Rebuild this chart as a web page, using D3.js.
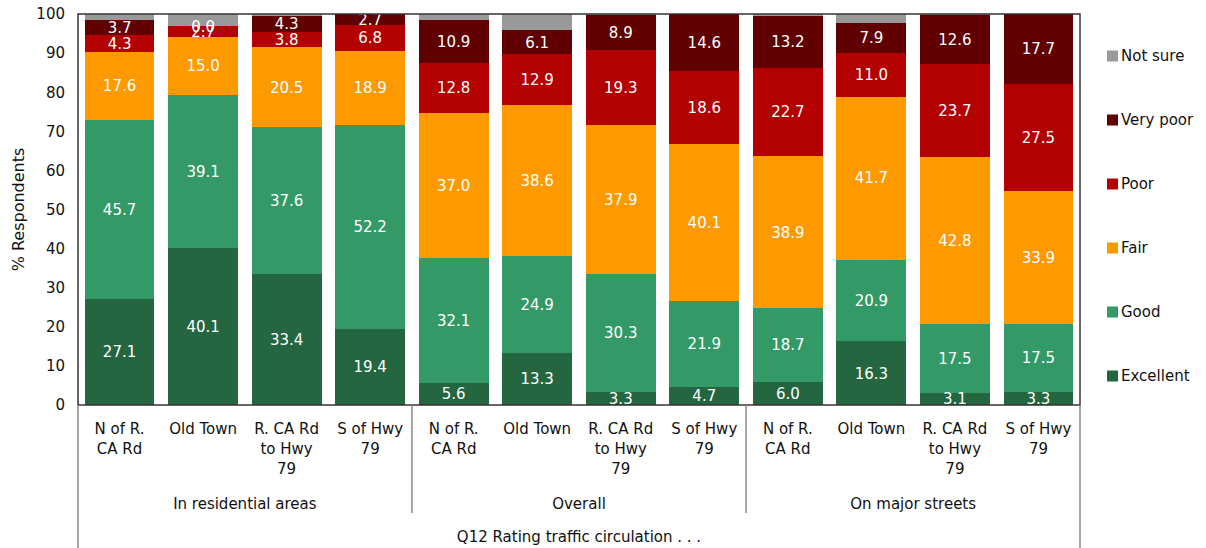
<!DOCTYPE html>
<html>
<head>
<meta charset="utf-8">
<script src="https://cdn.jsdelivr.net/npm/d3@7"></script>
<style>
  body { margin: 0; background: #fff; }
  svg { display: block; font-family: "DejaVu Sans", sans-serif; }
</style>
</head>
<body>
<div id="chart"></div>
<script>
// Stacked 100% bars, Q12 traffic circulation

const groups = ["In residential areas", "Overall", "On major streets"];
const areas = ["N of R.|CA Rd", "Old Town", "R. CA Rd|to Hwy|79", "S of Hwy|79"];
const ratings = ["Excellent", "Good", "Fair", "Poor", "Very poor", "Not sure"];
const colors = ["#23663f", "#339966", "#ff9900", "#b30000", "#600000", "#999999"];

// one row per bar, values bottom to top in ratings order
const excellent = [27.1, 40.1, 33.4, 19.4, 5.6, 13.3, 3.3, 4.7, 6.0, 16.3, 3.1, 3.3];
const good      = [45.7, 39.1, 37.6, 52.2, 32.1, 24.9, 30.3, 21.9, 18.7, 20.9, 17.5, 17.5];
const fair      = [17.6, 15.0, 20.5, 18.9, 37.0, 38.6, 37.9, 40.1, 38.9, 41.7, 42.8, 33.9];
const poor      = [4.3, 2.7, 3.8, 6.8, 12.8, 12.9, 19.3, 18.6, 22.7, 11.0, 23.7, 27.5];
const veryPoor  = [3.7, 0.0, 4.3, 2.7, 10.9, 6.1, 8.9, 14.6, 13.2, 7.9, 12.6, 17.7];
const notSure   = [1.6, 3.1, 0.4, 0.0, 1.6, 4.2, 0.3, 0.1, 0.5, 2.2, 0.3, 0.1];

const yTicks = [0, 10, 20, 30, 40, 50, 60, 70, 80, 90, 100];
const axisTitle = "% Respondents";
const footTitle = "Q12 Rating traffic circulation . . .";

const series = [excellent, good, fair, poor, veryPoor, notSure];
const rows = [];
groups.forEach((g, gi) => {
  areas.forEach((a, ai) => {
    const i = gi * areas.length + ai;
    const row = { key: g + "/" + a, group: g, area: a };
    ratings.forEach((r, ri) => (row[r] = series[ri][i]));
    rows.push(row);
  });
});

const width = 1206;
const height = 548;
const margin = { top: 14, right: 126, bottom: 143, left: 78 };

const svg = d3.select("#chart").append("svg")
  .attr("width", width)
  .attr("height", height);

const x = d3.scaleBand()
  .domain(rows.map((d) => d.key))
  .range([margin.left, width - margin.right])
  .paddingInner(0.165)
  .paddingOuter(0.08);

const y = d3.scaleLinear()
  .domain([0, 100])
  .range([height - margin.bottom, margin.top]);

const color = d3.scaleOrdinal().domain(ratings).range(colors);

const stack = d3.stack().keys(ratings)(rows);

// bars
const layer = svg.append("g")
  .attr("shape-rendering", "crispEdges")
  .selectAll("g")
  .data(stack)
  .join("g")
  .attr("fill", (d) => color(d.key));

layer.selectAll("rect")
  .data((d) => d)
  .join("rect")
  .attr("x", (d) => x(d.data.key))
  .attr("width", x.bandwidth())
  .attr("y", (d) => y(d[1]))
  .attr("height", (d) => y(d[0]) - y(d[1]));

// value labels (not for "Not sure")
svg.append("g")
  .attr("font-size", 15)
  .attr("fill", "#fff")
  .attr("text-anchor", "middle")
  .selectAll("g")
  .data(stack.filter((s) => s.key !== "Not sure"))
  .join("g")
  .selectAll("text")
  .data((d) => d)
  .join("text")
  .attr("x", (d) => x(d.data.key) + x.bandwidth() / 2)
  .attr("y", (d) => y((d[0] + d[1]) / 2))
  .attr("dy", "0.36em")
  .text((d) => d3.format(".1f")(d[1] - d[0]));

// y axis
const yAxis = d3.axisLeft(y).tickValues(yTicks).tickSize(0).tickPadding(13);
svg.append("g")
  .attr("transform", `translate(${margin.left},0)`)
  .call(yAxis)
  .call((g) => g.select(".domain").remove())
  .call((g) => g.selectAll("text")
    .attr("font-size", 15)
    .attr("font-family", "DejaVu Sans, sans-serif")
    .attr("fill", "#111"));

svg.append("text")
  .attr("transform", `translate(24,${y(50)}) rotate(-90)`)
  .attr("text-anchor", "middle")
  .attr("font-size", 16)
  .attr("fill", "#111")
  .text(axisTitle);

// plot frame
const frame = svg.append("g").attr("fill", "none").attr("stroke", "#333").attr("stroke-width", 1.5);
frame.append("rect")
  .attr("x", margin.left)
  .attr("y", margin.top)
  .attr("width", width - margin.right - margin.left)
  .attr("height", y(0) - margin.top);

// outer category lines down to bottom
const lines = svg.append("g").attr("stroke", "#888").attr("stroke-width", 1.5);
[margin.left, width - margin.right].forEach((lx) => {
  lines.append("line")
    .attr("x1", lx).attr("x2", lx)
    .attr("y1", y(0)).attr("y2", height);
});

// group separators
const step = x.step();
groups.slice(1).forEach((g) => {
  const first = rows.find((r) => r.group === g);
  const sx = x(first.key) - (step - x.bandwidth()) / 2;
  lines.append("line")
    .attr("x1", sx).attr("x2", sx)
    .attr("y1", y(0)).attr("y2", 513);
});

// category labels
const catLabels = svg.append("g")
  .attr("font-size", 15)
  .attr("fill", "#111")
  .attr("text-anchor", "middle");

rows.forEach((r) => {
  const t = catLabels.append("text")
    .attr("x", x(r.key) + x.bandwidth() / 2)
    .attr("y", 434);
  r.area.split("|").forEach((part, i) => {
    t.append("tspan")
      .attr("x", x(r.key) + x.bandwidth() / 2)
      .attr("dy", i === 0 ? 0 : 20)
      .text(part);
  });
});

// group labels
groups.forEach((g) => {
  const gr = rows.filter((r) => r.group === g);
  const x0 = x(gr[0].key);
  const x1 = x(gr[gr.length - 1].key) + x.bandwidth();
  catLabels.append("text")
    .attr("x", (x0 + x1) / 2)
    .attr("y", 509)
    .text(g);
});

catLabels.append("text")
  .attr("x", (margin.left + width - margin.right) / 2)
  .attr("y", 542)
  .text(footTitle);

// legend, top to bottom reversed
const legend = svg.append("g")
  .attr("font-size", 15)
  .attr("fill", "#111");

const legendY = d3.scalePoint()
  .domain(ratings.slice().reverse())
  .range([56, 376]);

legend.selectAll("rect")
  .data(ratings)
  .join("rect")
  .attr("x", 1107)
  .attr("y", (d) => legendY(d) - 5.5)
  .attr("width", 11)
  .attr("height", 11)
  .attr("fill", (d) => color(d));

legend.selectAll("text")
  .data(ratings)
  .join("text")
  .attr("x", 1121)
  .attr("y", (d) => legendY(d))
  .attr("dy", "0.36em")
  .text((d) => d);
</script>
</body>
</html>
